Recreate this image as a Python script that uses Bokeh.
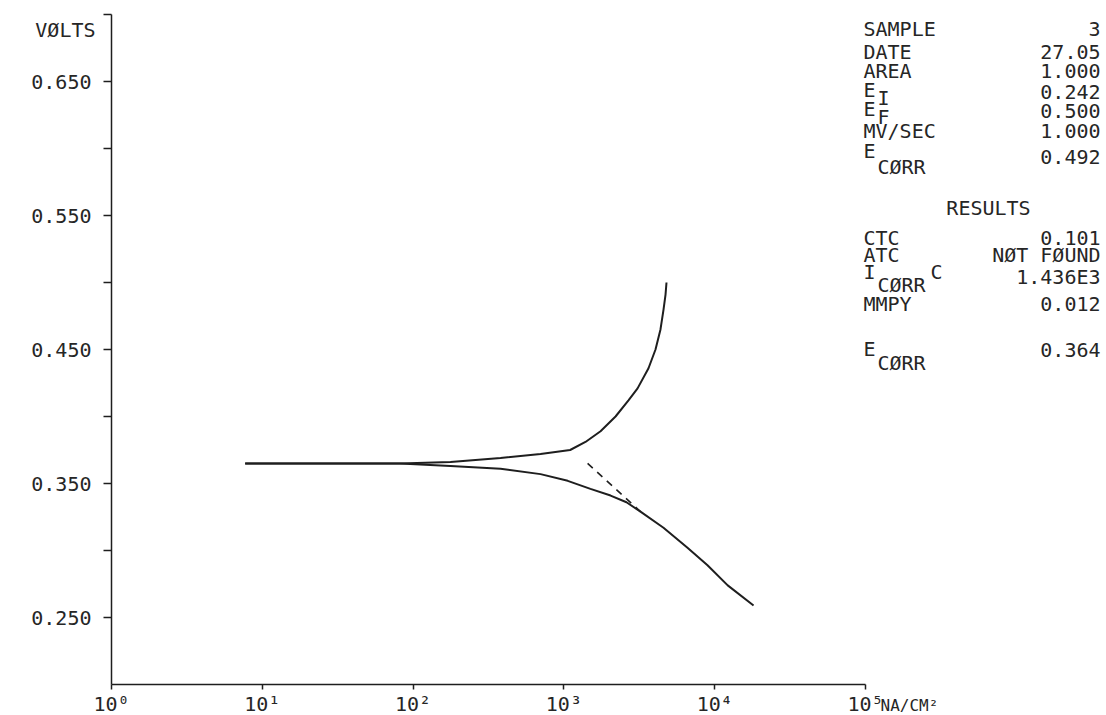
import math
from bokeh.plotting import figure
from bokeh.models import FixedTicker, Label, PrintfTickFormatter, Range1d
from bokeh.embed import file_html
from bokeh.resources import INLINE

# ---------------- data ----------------
anodic_i = [7.7, 18, 38, 82, 177, 380, 700, 1100, 1390, 1750, 2200, 2680,
            3080, 3640, 4050, 4370, 4580, 4720, 4790]
anodic_v = [0.365, 0.365, 0.365, 0.365, 0.366, 0.369, 0.372, 0.375, 0.381,
            0.389, 0.400, 0.412, 0.421, 0.436, 0.450, 0.465, 0.480, 0.491, 0.500]

cathodic_i = [7.7, 18, 38, 82, 177, 380, 700, 1060, 1500, 2040, 2600, 3220,
              4575, 6600, 8960, 12200, 18100]
cathodic_v = [0.365, 0.365, 0.365, 0.365, 0.363, 0.361, 0.357, 0.352, 0.346,
              0.341, 0.336, 0.329, 0.317, 0.302, 0.289, 0.274, 0.259]

tafel_i = [1436, 3220]
tafel_v = [0.365, 0.329]

x_ticks = [1, 10, 100, 1000, 10000, 100000]
x_tick_labels = ["10⁰", "10¹", "10²", "10³", "10⁴", "10⁵"]
y_major = [0.25, 0.35, 0.45, 0.55, 0.65]
y_minor = [0.30, 0.40, 0.50, 0.60, 0.70]
x_bounds = (1, 1e5)
y_bounds = (0.2, 0.7)

y_title = "VØLTS"
x_unit = "NA/CM²"

param_names = ["SAMPLE", "DATE", "AREA", "E", "E", "MV/SEC", "E"]
param_subs = ["", "", "", "I", "F", "", "CØRR"]
param_values = ["3", "27.05", "1.000", "0.242", "0.500", "1.000", "0.492"]

results_title = "RESULTS"
result_names = ["CTC", "ATC", "I", "MMPY", "E"]
result_subs = ["", "", "CØRR", "", "CØRR"]
result_values = ["0.101", "NØT FØUND", "1.436E3", "0.012", "0.364"]

# ---------------- layout / style ----------------
W, H = 1106, 715
# pixel placement of the axes box (left, right, top, bottom) on the canvas
AX_L, AX_R, AX_T, AX_B = 111, 865, 14, 684
dec_px = (AX_R - AX_L) / (math.log10(x_bounds[1]) - math.log10(x_bounds[0]))
v_px = (AX_B - AX_T) / (y_bounds[1] - y_bounds[0])
x_start = 10 ** (math.log10(x_bounds[0]) - AX_L / dec_px)
x_end = 10 ** (math.log10(x_bounds[1]) + (W - AX_R) / dec_px)
y_end = y_bounds[1] + AX_T / v_px
y_start = y_bounds[0] - (H - AX_B) / v_px

FONT = "DejaVu Sans Mono"
INK = "#1e1e1e"
TXT = "#262626"
FS = "20px"

p = figure(width=W, height=H, x_axis_type="log",
           x_range=Range1d(x_start, x_end), y_range=Range1d(y_start, y_end),
           output_backend="svg", toolbar_location=None,
           min_border=0, min_border_left=0, min_border_right=0,
           min_border_top=0, min_border_bottom=0)
p.outline_line_color = None
p.grid.visible = False
p.background_fill_color = "white"
p.border_fill_color = "white"

xa = p.xaxis[0]
ya = p.yaxis[0]
for ax in (xa, ya):
    ax.axis_line_color = INK
    ax.axis_line_width = 1.5
    ax.major_tick_line_color = INK
    ax.major_tick_line_width = 1.5
    ax.minor_tick_line_color = INK
    ax.minor_tick_line_width = 1.5
    ax.major_tick_in = 0
    ax.minor_tick_in = 0
    ax.major_label_text_font = FONT
    ax.major_label_text_color = TXT

xa.fixed_location = y_bounds[0]
xa.bounds = x_bounds
xa.ticker = FixedTicker(ticks=x_ticks, minor_ticks=[])
xa.major_label_overrides = {t: s for t, s in zip(x_ticks, x_tick_labels)}
xa.major_tick_out = 5
xa.major_label_standoff = 2
xa.major_label_text_font_size = FS

ya.fixed_location = x_bounds[0]
ya.bounds = y_bounds
ya.ticker = FixedTicker(ticks=y_major, minor_ticks=y_minor)
ya.formatter = PrintfTickFormatter(format="%.3f")
ya.major_tick_out = 8
ya.minor_tick_out = 8
ya.major_label_standoff = 12
ya.major_label_text_font_size = FS

# curves
p.line(anodic_i, anodic_v, line_color=INK, line_width=2)
p.line(cathodic_i, cathodic_v, line_color=INK, line_width=2)
p.line(tafel_i, tafel_v, line_color=INK, line_width=1.6, line_dash="7 6")


def add_text(text, page_x, page_y, size=FS, align="left"):
    p.add_layout(Label(x=page_x, y=H - page_y,
                       x_units="screen", y_units="screen", text=text,
                       text_font=FONT, text_font_size=size, text_color=TXT,
                       text_align=align, text_baseline="middle"))


# axis titles
add_text(y_title, 95, 29, align="right")
add_text(x_unit, 880, 705, size="16px")

# parameter panel
name_y = [28, 51, 70, 89, 108, 130, 150]
sub_y = [0, 0, 0, 97, 116, 0, 166]
value_y = [28, 51, 70, 91, 110, 130, 156]
for n, s, v, ny, sy, vy in zip(param_names, param_subs, param_values, name_y, sub_y, value_y):
    add_text(n, 863, ny)
    if s:
        add_text(s, 877, sy)
    add_text(v, 1100, vy, align="right")

add_text(results_title, 988, 207, align="center")
rname_y = [237, 254, 271, 303, 348]
rsub_y = [0, 0, 284, 0, 362]
rvalue_y = [237, 254, 276, 303, 349]
for n, s, v, ny, sy, vy in zip(result_names, result_subs, result_values, rname_y, rsub_y, rvalue_y):
    add_text(n, 863, ny)
    if s:
        add_text(s, 877, sy)
    add_text(v, 1100, vy, align="right")
# trailing "C" after I CØRR as printed
add_text("C", 930, 271)

open("out.html", "w").write(file_html(p, INLINE))
